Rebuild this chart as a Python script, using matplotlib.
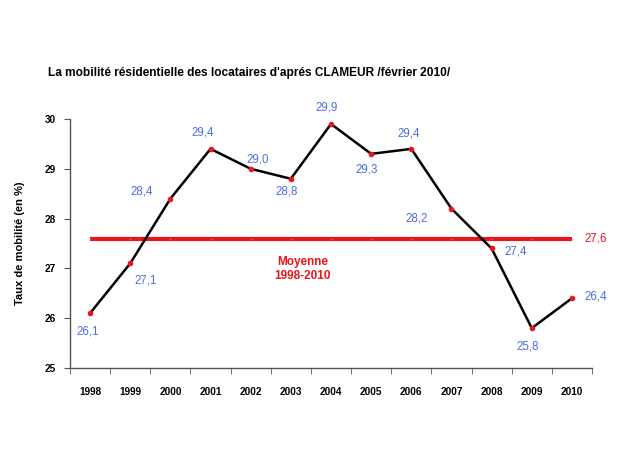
import matplotlib
matplotlib.use("Agg")
import matplotlib.pyplot as plt
import numpy as np

plt.rcParams["font.family"] = ["Liberation Sans", "DejaVu Sans"]

years = ["1998", "1999", "2000", "2001", "2002", "2003", "2004",
         "2005", "2006", "2007", "2008", "2009", "2010"]
taux = [26.1, 27.1, 28.4, 29.4, 29.0, 28.8, 29.9, 29.3, 29.4, 28.2, 27.4, 25.8, 26.4]
moyenne = 27.6
y_ticks = [25, 26, 27, 28, 29, 30]

# label offsets in points (dx, dy)
offsets = [(-2, -13), (11, -12), (-21, 5), (-6, 12), (5, 7), (-3, -9), (-3, 12),
           (-3, -11), (-2, 11), (-25, -7), (17, -2), (-3, -13), (17, 1)]

BLUE = "#4a6ee0"
RED = "#e8161b"

fig = plt.figure(figsize=(6.2, 4.65), dpi=100)
ax = fig.add_axes([70 / 620, 1 - 368 / 465, 522 / 620, 249 / 465])

x = np.arange(len(years))
ax.plot(x, [moyenne] * len(x), color=RED, lw=3, solid_capstyle="butt", zorder=2)
ax.plot(x, [moyenne] * len(x), ls="none", marker="o", ms=1.2, mew=0,
        color="#e868c8", alpha=0.7, zorder=3)
ax.plot(x, taux, color="black", lw=1.8, zorder=4)
ax.plot(x, taux, ls="none", marker="o", ms=3, color=RED, zorder=5)

for xi, v, (dx, dy) in zip(x, taux, offsets):
    ax.annotate(f"{v:.1f}".replace(".", ","), (xi, v), xytext=(dx, dy),
                textcoords="offset points", ha="center", va="center",
                color=BLUE, fontsize=8.3)

ax.annotate(f"{moyenne:.1f}".replace(".", ","), (x[-1], moyenne), xytext=(17, 0),
            textcoords="offset points", ha="center", va="center", color=RED, fontsize=8.3)
ax.text(5.3, 26.98, "Moyenne\n1998-2010", ha="center", va="center", color=RED,
        fontsize=8.5, fontweight="bold", linespacing=1.2)

ax.set_xlim(-0.5, len(years) - 0.5)
ax.set_ylim(25, 30)
ax.set_xticks(x)
ax.set_xticklabels(years, fontsize=7.2, fontweight="bold")
ax.tick_params(axis="x", length=0, pad=14)
ax.set_xticks(np.arange(-0.5, len(years)), minor=True)
ax.tick_params(axis="x", which="minor", length=4, direction="out", color="#555555")
ax.set_yticks(y_ticks)
ax.set_yticklabels([str(t) for t in y_ticks], fontsize=7.2, fontweight="bold")
ax.tick_params(axis="y", length=4, direction="out", color="#555555", pad=6)

for side in ("top", "right"):
    ax.spines[side].set_visible(False)
for side in ("left", "bottom"):
    ax.spines[side].set_color("#555555")
    ax.spines[side].set_linewidth(1)

ax.set_ylabel("Taux de mobilité (en %)", fontsize=8, fontweight="bold", labelpad=14)

fig.text(48 / 620, 1 - 73 / 465,
         "La mobilité résidentielle des locataires d'aprés CLAMEUR /février 2010/",
         fontsize=8.6, fontweight="bold", va="center", ha="left")

fig.savefig("out.png", dpi=100)
